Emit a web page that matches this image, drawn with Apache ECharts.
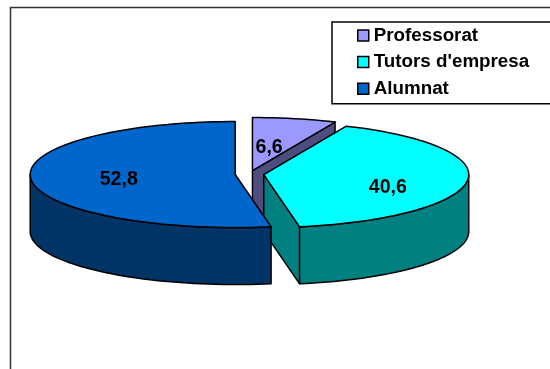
<!DOCTYPE html>
<html><head><meta charset="utf-8">
<style>html,body{margin:0;padding:0;background:#fff}#c{width:550px;height:369px}</style>
<script src="https://cdn.jsdelivr.net/npm/echarts@6/dist/echarts.min.js"></script>
</head><body><div id="c"></div>
<script>
const categories = ['Professorat', "Tutors d'empresa", 'Alumnat'];
const values = [6.6, 40.6, 52.8];
const valueLabels = ['6,6', '40,6', '52,8'];
const topColors = ['#9999FF', '#00FFFF', '#0066CC'];
const sideColors = ['#4D4D80', '#008080', '#003366'];

const EXPLODE = 0.07, DEPTH = 57 / 53, LABEL_R = 0.585, STEP = 2;
const LABEL_NUDGE = [[-8, 7], [5, 9], [3, 2]];
const FONT = 'Liberation Sans, Arial, sans-serif';
const total = values.reduce((a, b) => a + b, 0);
const rad = d => d * Math.PI / 180;

const starts = [];
values.reduce((acc, v, i) => { starts[i] = acc; return acc + v; }, 0);

function arc(a0, a1) {
  const out = [], n = Math.max(1, Math.ceil((a1 - a0) / STEP));
  for (let i = 0; i <= n; i++) {
    const a = a0 + (a1 - a0) * i / n;
    out.push([Math.sin(rad(a)), Math.cos(rad(a))]);
  }
  return out;
}

function makeRender(i) {
  return function (params, api) {
    const a0 = starts[i] / total * 360;
    const a1 = a0 + api.value(2) / total * 360;
    const mid = (a0 + a1) / 2;
    const ox = EXPLODE * Math.sin(rad(mid)), oy = EXPLODE * Math.cos(rad(mid));
    const top = p => api.coord([p[0] + ox, p[1] + oy]);
    const low = p => api.coord([p[0] + ox, p[1] + oy - DEPTH]);
    const stroke = { stroke: '#000', lineWidth: 1.5, lineJoin: 'round' };
    const kids = [];
    const wall = (pts, color) => kids.push({
      type: 'polygon',
      shape: { points: pts.map(top).concat(pts.slice().reverse().map(low)) },
      style: Object.assign({ fill: color }, stroke)
    });
    const edge = a => [[0, 0], [Math.sin(rad(a)), Math.cos(rad(a))]];
    if (Math.sin(rad(a1)) > 1e-6) wall(edge(a1), sideColors[i]);
    if (-Math.sin(rad(a0)) > 1e-6) wall(edge(a0), sideColors[i]);
    const w0 = Math.max(a0, 90), w1 = Math.min(a1, 270);
    if (w1 > w0) wall(arc(w0, w1), sideColors[i]);
    kids.push({
      type: 'polygon',
      shape: { points: [[0, 0]].concat(arc(a0, a1)).map(top) },
      style: Object.assign({ fill: topColors[i] }, stroke)
    });
    const c = api.coord([ox + LABEL_R * Math.sin(rad(mid)), oy + LABEL_R * Math.cos(rad(mid))]);
    kids.push({
      type: 'text', x: c[0] + LABEL_NUDGE[i][0], y: c[1] + LABEL_NUDGE[i][1],
      style: { text: valueLabels[i], fill: '#000', font: 'bold 19.5px ' + FONT, align: 'center', verticalAlign: 'middle' }
    });
    return { type: 'group', children: kids };
  };
}

const chart = echarts.init(document.getElementById('c'), null, { renderer: 'canvas' });
chart.setOption({
  animation: false,
  backgroundColor: '#fff',
  color: topColors,
  grid: { left: 44.5, width: 410, top: 121.2, height: 106, containLabel: false },
  xAxis: { type: 'value', min: -1, max: 1, show: false },
  yAxis: { type: 'value', min: -1, max: 1, show: false },
  legend: {
    orient: 'vertical', left: 332, top: 22, align: 'left',
    padding: [4, 130, 5.5, 25], itemGap: 7.6,
    itemWidth: 11, itemHeight: 11, borderColor: '#000', borderWidth: 1.5,
    icon: 'rect',
    itemStyle: { borderColor: '#000', borderWidth: 1.5 },
    textStyle: { fontFamily: FONT, fontWeight: 'bold', fontSize: 18.8, color: '#000' },
    data: categories
  },
  graphic: [{
    type: 'rect', silent: true, z: -1,
    shape: { x: 10.5, y: 7.5, width: 800, height: 600 },
    style: { fill: 'none', stroke: '#333', lineWidth: 1.5 }
  }],
  series: categories.map((name, i) => ({
    type: 'custom', name, coordinateSystem: 'cartesian2d', clip: false,
    itemStyle: { color: topColors[i] },
    encode: { x: 0, y: 1 },
    renderItem: makeRender(i),
    data: [[0, 0, values[i]]],
    z: 2 + i
  }))
});
</script></body></html>
